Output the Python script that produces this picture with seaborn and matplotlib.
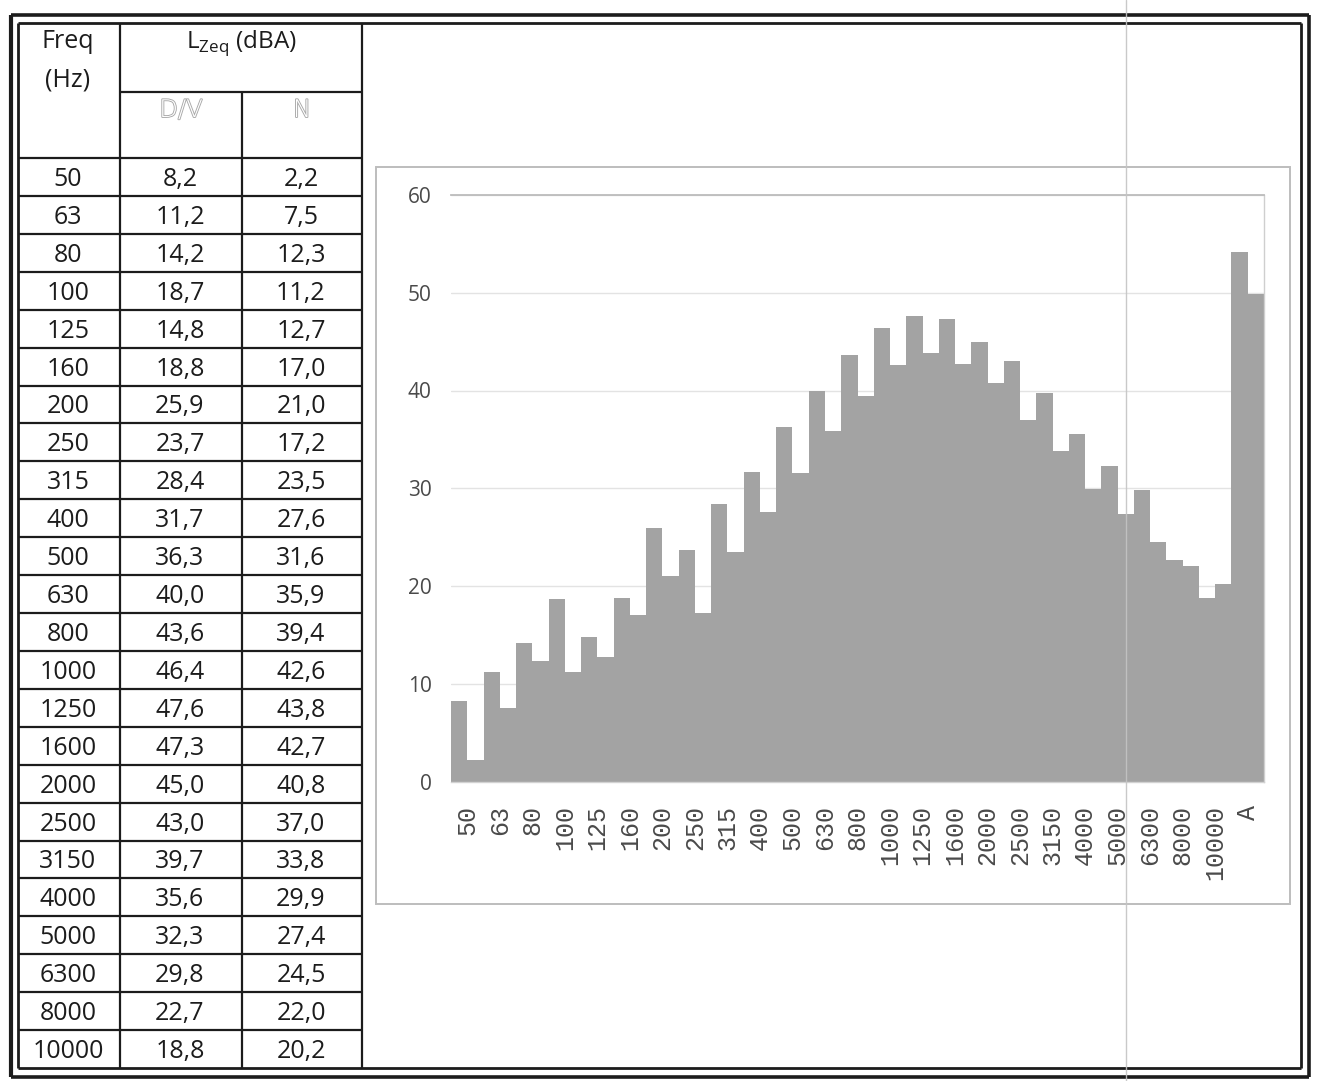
import matplotlib
matplotlib.use("Agg")
import matplotlib.pyplot as plt
import matplotlib.patheffects as pe
from matplotlib.patches import Rectangle
import pandas as pd
import seaborn as sns

# ---- data -------------------------------------------------------------
freq_labels = ["50", "63", "80", "100", "125", "160", "200", "250", "315",
               "400", "500", "630", "800", "1000", "1250", "1600", "2000",
               "2500", "3150", "4000", "5000", "6300", "8000", "10000"]
lzeq_dv = [8.2, 11.2, 14.2, 18.7, 14.8, 18.8, 25.9, 23.7, 28.4, 31.7, 36.3,
           40.0, 43.6, 46.4, 47.6, 47.3, 45.0, 43.0, 39.7, 35.6, 32.3, 29.8,
           22.7, 18.8]
lzeq_n = [2.2, 7.5, 12.3, 11.2, 12.7, 17.0, 21.0, 17.2, 23.5, 27.6, 31.6,
          35.9, 39.4, 42.6, 43.8, 42.7, 40.8, 37.0, 33.8, 29.9, 27.4, 24.5,
          22.0, 20.2]
total_label = "A"
total_dv = 54.2
total_n = 49.9
series_names = ["D/V", "N"]
y_ticks = [0, 10, 20, 30, 40, 50, 60]

# ---- long-form table for seaborn ------------------------------------
bands = freq_labels + [total_label]
rows = []
for b, v in zip(bands, lzeq_dv + [total_dv]):
    rows.append({"band": b, "series": series_names[0], "level": v})
for b, v in zip(bands, lzeq_n + [total_n]):
    rows.append({"band": b, "series": series_names[1], "level": v})
df = pd.DataFrame(rows)

sns.set_theme(style="white")
plt.rcParams["font.family"] = ["Open Sans", "DejaVu Sans"]
plt.rcParams["mathtext.fontset"] = "custom"
plt.rcParams["mathtext.rm"] = "Open Sans"

W, H = 1317, 1081
fig = plt.figure(figsize=(W / 100, H / 100), dpi=100)
fig.patch.set_facecolor("white")

page = fig.add_axes([0, 0, 1, 1])
page.set_xlim(0, W)
page.set_ylim(H, 0)
page.axis("off")

ink = "#1c1c1c"


def hline(y, x0, x1, lw=1.6, color=ink):
    page.plot([x0, x1], [y, y], color=color, lw=lw, solid_capstyle="butt")


def vline(x, y0, y1, lw=1.6, color=ink):
    page.plot([x, x], [y0, y1], color=color, lw=lw, solid_capstyle="butt")


# ---- double page frame ----------------------------------------------
top_o, top_i = 15, 23
bot_i, bot_o = 1068, 1077
left_o, left_i = 11, 18
right_i, right_o = 1301, 1309
hline(top_o, left_o, right_o, lw=2.6)
hline(top_i, left_i, right_i, lw=2.0)
hline(bot_o, left_o, right_o, lw=2.6)
hline(bot_i, left_i, right_i, lw=2.0)
vline(left_o, top_o, bot_o, lw=3.0)
vline(left_i, top_i, bot_i, lw=2.0)
vline(right_o, top_o, bot_o, lw=2.6)
vline(right_i, top_i, bot_i, lw=2.0)

# ---- table ----------------------------------------------------------
col_x = [left_i, 120, 242, 362]
head_sub = 92
head_bot = 158
row_h = (bot_i - head_bot) / len(freq_labels)

vline(col_x[1], top_i, bot_i)
vline(col_x[2], head_sub, bot_i)
vline(col_x[3], top_i, bot_i)
hline(head_sub, col_x[1], col_x[3])
for i in range(len(freq_labels)):
    hline(head_bot + i * row_h, col_x[0], col_x[3])

tsize = 18
page.text(68, 42, "Freq", ha="center", va="center", fontsize=tsize, color=ink)
page.text(68, 80, "(Hz)", ha="center", va="center", fontsize=tsize, color=ink)
page.text(241, 43, r"L$_{\mathrm{Zeq}}$ (dBA)", ha="center", va="center",
          fontsize=tsize - 0.5, color=ink)
hollow = [pe.withStroke(linewidth=1.3, foreground="#a8a8a8")]
page.text(181, 110, series_names[0], ha="center", va="center",
          fontsize=tsize - 0.5, color="white", path_effects=hollow,
          family="DejaVu Sans", fontweight="light")
page.text(302, 110, series_names[1], ha="center", va="center",
          fontsize=tsize - 0.5, color="white", path_effects=hollow,
          family="DejaVu Sans", fontweight="light")


def comma(v):
    return f"{v:.1f}".replace(".", ",")


for i, (f, a, b) in enumerate(zip(freq_labels, lzeq_dv, lzeq_n)):
    yc = head_bot + (i + 0.5) * row_h + 2.5
    page.text(68, yc, f, ha="center", va="center", fontsize=tsize, color=ink)
    page.text(180, yc, comma(a), ha="center", va="center", fontsize=tsize, color=ink)
    page.text(301, yc, comma(b), ha="center", va="center", fontsize=tsize, color=ink)

# ---- chart frame ----------------------------------------------------
page.add_patch(Rectangle((376, 167), 1290 - 376, 904 - 167, fill=False,
                         edgecolor="#bdbdbd", lw=1.4))

# ---- bar chart ------------------------------------------------------
px0, px1 = 451, 1264
py_top, py_bot = 195, 781.5
ax = fig.add_axes([px0 / W, 1 - py_bot / H, (px1 - px0) / W, (py_bot - py_top) / H])
ax.patch.set_alpha(0)

bar_grey = "#a3a3a3"
sns.barplot(data=df, x="band", y="level", hue="series", order=bands,
            hue_order=series_names, palette=[bar_grey, bar_grey],
            width=1.0, gap=0, dodge=True, saturation=1, linewidth=0,
            errorbar=None, legend=False, ax=ax)

ax.set_xlim(-0.5, len(bands) - 0.5)
ax.set_ylim(0, 60)
ax.set_yticks(y_ticks)
ax.set_xticks(range(len(bands)))
ax.set_xticklabels(bands, rotation=90, fontfamily="Liberation Mono",
                   fontsize=18, color="#4a4a4a", va="top", ha="center")
ax.set_yticklabels([str(t) for t in y_ticks], fontsize=15, color="#4a4a4a")
ax.set_xlabel("")
ax.set_ylabel("")
ax.set_axisbelow(True)
ax.yaxis.grid(True, color="#e3e3e3", lw=1.0)
ax.xaxis.grid(False)
ax.tick_params(axis="both", length=0)
ax.tick_params(axis="y", pad=14)
ax.tick_params(axis="x", pad=17)

ax.spines["left"].set_visible(False)
ax.spines["top"].set_color("#bcbcbc")
ax.spines["top"].set_linewidth(1.3)
ax.spines["right"].set_color("#cfcfcf")
ax.spines["right"].set_linewidth(1.0)
ax.spines["bottom"].set_color("#d2d2d2")
ax.spines["bottom"].set_linewidth(1.0)

# ---- page fold line across the sheet ------------------------------
over = fig.add_axes([0, 0, 1, 1], zorder=10)
over.set_xlim(0, W)
over.set_ylim(H, 0)
over.axis("off")
over.patch.set_alpha(0)
over.plot([1126, 1126], [0, H], color="#c4c4c4", lw=1.0, alpha=0.9)

fig.savefig("out.png", dpi=100, facecolor="white")
